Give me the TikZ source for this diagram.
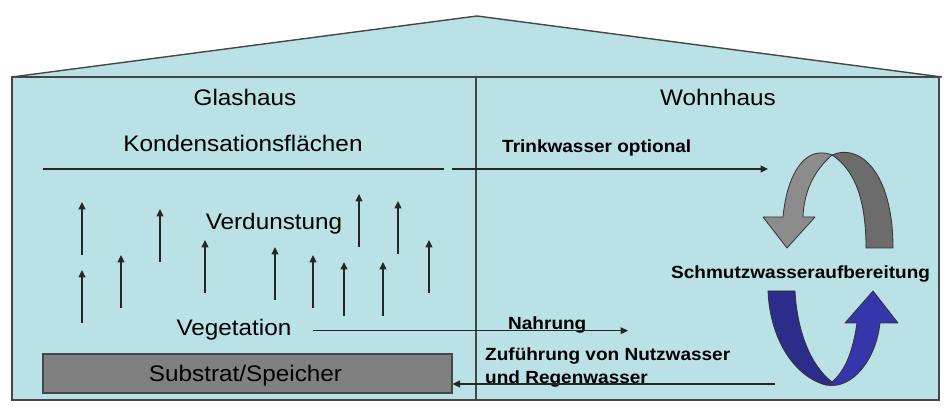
\documentclass[tikz,border=0pt]{standalone}
\usepackage{fontspec}
\setmainfont{Liberation Sans}[FakeStretch=1.08]
\usetikzlibrary{arrows.meta}
\definecolor{bg}{RGB}{185,225,230}
\definecolor{frm}{RGB}{70,70,70}
\definecolor{boxgray}{RGB}{128,128,128}
\definecolor{glight}{RGB}{140,140,140}
\definecolor{gdark}{RGB}{108,108,108}
\definecolor{bdark}{RGB}{44,44,138}
\definecolor{blight}{RGB}{54,54,172}
\tikzset{
  frame/.style={draw=frm, line width=1.4pt},
  lbl/.style={inner sep=0pt, font=\fontsize{22.5}{27}\selectfont},
  blbl/.style={inner sep=0pt, font=\fontsize{17.6}{21}\selectfont\bfseries},
  flow/.style={line width=1.1pt, draw=black!85, -{Triangle[length=7.5pt,width=7pt]}},
  evap/.style={line width=1.1pt, draw=black!85, -{Triangle[length=7.5pt,width=7pt]}},
  ribbon/.style={draw=black!80, line width=0.8pt, line join=round},
}
\begin{document}
\begin{tikzpicture}[x=1pt,y=-1pt]
\useasboundingbox (0,0) rectangle (951,419);
\fill[white] (0,0) rectangle (951,419);
% house
\draw[frame, fill=bg] (12,77) -- (477,16) -- (942,77) -- cycle;
\draw[frame, fill=bg] (12,77) rectangle (939,400);
\draw[frame] (476,77) -- (476,400);

% titles
\node[lbl, anchor=base] (glas) at (245,105.5) {Glashaus};
\node[lbl, anchor=base] (wohn) at (718,105.5) {Wohnhaus};
\node[lbl, anchor=base] (kond) at (243,152) {Kondensationsflächen};
\coordinate (kl) at (43,169);
\coordinate (kr) at (444,169);
\draw[line width=1.1pt, black!85] (kl) -- (kr);

\node[lbl, anchor=base] (verd) at (274,230) {Verdunstung};
\node[lbl, anchor=base] (veg) at (234,336) {Vegetation};

% substrate box
\node[draw=frm, line width=1.2pt, fill=boxgray, minimum width=409pt, minimum height=39pt, inner sep=0pt] (sub) at (247.5,373.5) {};
\node[lbl, anchor=base] (subt) at (245.5,381.5) {Substrat/Speicher};

% evaporation arrows
\foreach \i/\x/\ya/\yb in {1/82/255/202, 2/82/323/270, 3/121/308/255, 4/160/262/209,
  5/205/293/240, 6/275/300/247, 7/313/308/255, 8/344/316/262, 9/359/247/194,
  10/383/316/262, 11/398/254/201, 12/429/293/240}{
  \coordinate (e\i a) at (\x,\ya);
  \coordinate (e\i b) at (\x,\yb);
  \draw[evap] (e\i a) -- (e\i b);
}

% Wohnhaus texts
\node[blbl, anchor=base west] (trink) at (502,152.7) {Trinkwasser optional};
\coordinate (ts) at (452,169);
\coordinate (te) at (768,169);
\draw[flow] (ts) -- (te);

\node[blbl, anchor=base west] (schm) at (671,278.5) {Schmutzwasseraufbereitung};

\node[blbl, anchor=base west] (nahr) at (508,330) {Nahrung};
\coordinate (ns) at (313,330.7);
\coordinate (ne) at (628,330.7);
\draw[flow] (ns) -- (ne);

\node[blbl, anchor=base west] (zuf1) at (485,360.7) {Zuführung von Nutzwasser};
\node[blbl, anchor=base west] (zuf2) at (485,384) {und Regenwasser};
\coordinate (rs) at (775,384);
\draw[flow] (rs) -- (sub.east |- rs);

% gray circular arrow (top)
\draw[ribbon, fill=gdark] (832,155) .. controls (858,143) and (893,170) .. (893,248)
  -- (866,248) .. controls (866,200) and (855,170) .. (832,155) -- cycle;
\draw[ribbon, fill=glight] (783,217) .. controls (786,185) and (796,165) .. (808,157)
  .. controls (815,152) and (825,152) .. (832,155)
  .. controls (815,170) and (804,190) .. (803,217)
  -- (815,217) -- (787,248) -- (763,217) -- cycle;

% blue circular arrow (bottom)
\draw[ribbon, fill=bdark] (768,291) -- (795,291) .. controls (797,330) and (810,365) .. (832,382)
  -- (826,385) .. controls (795,377) and (770,340) .. (768,291) -- cycle;
\draw[ribbon, fill=blight] (826,385) .. controls (852,390) and (876,360) .. (880,323)
  -- (898,323) -- (873,291) -- (845,323) -- (857,323)
  .. controls (853,350) and (846,370) .. (832,382) -- cycle;
\end{tikzpicture}
\end{document}
